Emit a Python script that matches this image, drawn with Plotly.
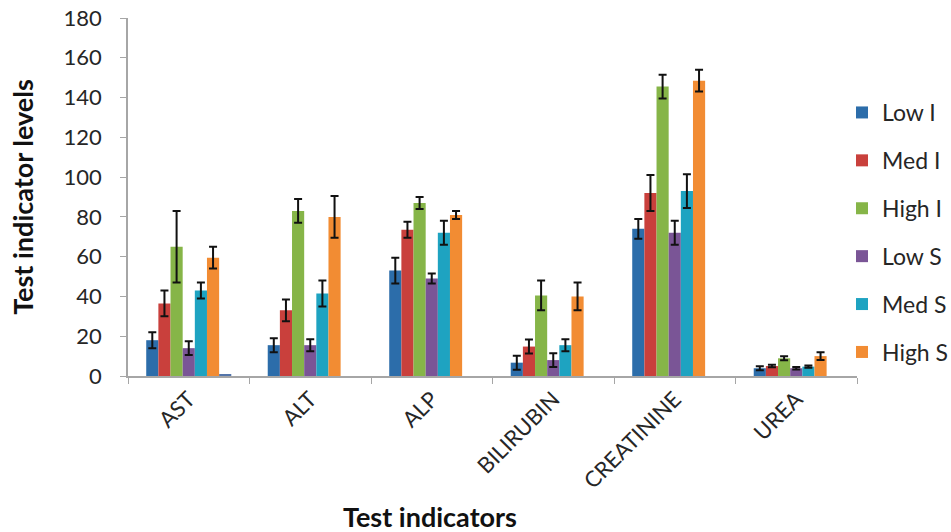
import plotly.graph_objects as go

categories = ["AST", "ALT", "ALP", "BILIRUBIN", "CREATININE", "UREA"]
series_names = ["Low I", "Med I", "High I", "Low S", "Med S", "High S"]

low_i = [18, 15.5, 53, 6.7, 74, 3.9]
med_i = [36.5, 33, 73.5, 14.8, 92, 5]
high_i = [65, 83, 87, 40.5, 145.5, 8.9]
low_s = [14, 15.5, 49, 8, 72, 3.9]
med_s = [43, 41.5, 72, 15.5, 93, 4.7]
high_s = [59.5, 80, 81, 40, 148.5, 10]
# unlabeled seventh series visible only as a sliver next to AST
extra_series = [0.7, 0, 0, 0, 0, 0]

err_low_i = [4, 3.5, 6.5, 3.5, 5, 1]
err_med_i = [6.5, 5.5, 4, 3.5, 9, 0.6]
err_high_i = [18, 6, 3, 7.5, 6, 1]
err_low_s = [3.5, 3, 2.5, 3.5, 6, 0.6]
err_med_s = [4, 6.5, 6, 3, 8.5, 0.6]
err_high_s = [5.5, 10.5, 2, 7, 5.5, 2]

values = [low_i, med_i, high_i, low_s, med_s, high_s]
errors = [err_low_i, err_med_i, err_high_i, err_low_s, err_med_s, err_high_s]
colors = ["#2C6DAA", "#C9403C", "#86B548", "#7A5596", "#1EA3C1", "#F28C33"]

FONT = "Lato, 'Open Sans', sans-serif"

fig = go.Figure()
for name, vals, errs, col in zip(series_names, values, errors, colors):
    fig.add_trace(go.Bar(
        name=name, x=categories, y=vals, marker_color=col,
        marker_line_width=0, legendgroup=name,
        error_y=dict(type="data", array=errs, symmetric=True, visible=True,
                     color="#111111", thickness=2, width=4),
    ))
fig.add_trace(go.Bar(name="", x=categories, y=extra_series, marker_color="#5475AA",
                     marker_line_width=0, showlegend=False, hoverinfo="skip"))

fig.update_layout(
    width=951, height=532, autosize=False,
    margin=dict(l=128, r=94, t=18, b=156, autoexpand=False),
    paper_bgcolor="white", plot_bgcolor="white",
    barmode="group", bargap=0.3, bargroupgap=0,
    font=dict(family=FONT, color="#262626"),
    showlegend=True,
    legend=dict(xref="container", yref="container", x=842 / 951, xanchor="left",
                y=1 - 91 / 532, yanchor="top", maxheight=400,
                font=dict(size=23, family=FONT, color="#262626"),
                tracegroupgap=15, itemwidth=30, bgcolor="rgba(0,0,0,0)"),
    annotations=[dict(text="<b>Test indicators</b>", xref="paper", yref="paper",
                      x=0.414, y=(376 - 516) / 358, xanchor="center", yanchor="middle",
                      showarrow=False, font=dict(size=27, family=FONT, color="#111111"))],
)
fig.update_xaxes(
    type="category", tickangle=-45, tickson="boundaries", ticks="outside",
    ticklen=6, tickcolor="#A6A6A6", showline=True, linecolor="#A6A6A6",
    linewidth=1.5, showgrid=False, automargin=False,
    tickfont=dict(size=22, family=FONT, color="#262626"),
)
fig.update_yaxes(
    range=[0, 180], dtick=20, ticks="outside", ticklen=6, tickcolor="#A6A6A6",
    showline=True, linecolor="#A6A6A6", linewidth=1.5, showgrid=False,
    zeroline=False, automargin=False,
    tickfont=dict(size=22, family=FONT, color="#262626"),
    ticklabelstandoff=14,
    title=dict(text="<b>Test indicator levels</b>", standoff=22,
               font=dict(size=27, family=FONT, color="#111111")),
)

fig.write_html("out.html", config={"displayModeBar": False},
               post_script="document.body.style.margin='0';")
